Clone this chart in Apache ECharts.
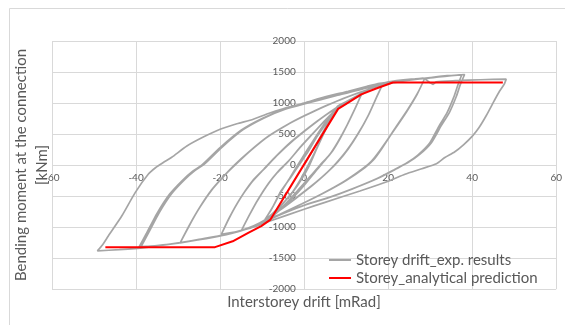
<!DOCTYPE html>
<html>
<head>
<meta charset="utf-8">
<script src="https://cdn.jsdelivr.net/npm/echarts@6/dist/echarts.min.js"></script>
<style>
  html, body { margin: 0; padding: 0; background: #fff; }
  #chart { width: 565px; height: 325px; }
</style>
</head>
<body>
<div id="chart"></div>
<script>
// Axis ranges and ticks
const xTicks = [-60, -40, -20, 0, 20, 40, 60];
const yTicks = [-2000, -1500, -1000, -500, 0, 500, 1000, 1500, 2000];

const seriesNames = ['Storey drift_exp. results', 'Storey_analytical prediction'];
const xTitle = 'Interstorey drift [mRad]';
const yTitle = 'Bending moment at the connection\n[kNm]';

// Experimental hysteresis, drift [mRad] vs moment [kNm], half-cycle by half-cycle
const cycle8a = [
  [0, 0], [2, 230], [4, 470], [6, 720], [8, 950],
  [6.5, 760], [4.5, 480], [2.8, 230], [1.3, 0], [-0.5, -220], [-2.5, -420], [-5, -620], [-7.5, -790], [-9.3, -880],
  [-7.5, -680], [-5.5, -420], [-3, -180], [-1.2, 0], [1, 220], [3, 450], [5, 650], [6.8, 830], [8, 950]
];
const cycle8b = [
  [6.3, 740], [4.2, 450], [2.5, 200], [1, 0], [-1, -250], [-3, -460], [-5.5, -650], [-7.8, -800], [-9.3, -880],
  [-7.8, -720], [-5.8, -470], [-3.5, -220], [-1.5, 0], [0.8, 250], [3, 480], [5.2, 700], [8, 950]
];
const cycle14a = [
  [10, 1020], [12, 1080], [13.6, 1130],
  [12.4, 950], [10.5, 680], [8.5, 420], [6.5, 200], [4.5, 40], [3, -80], [0, -330], [-3, -550], [-6, -740], [-9, -905], [-12, -1000], [-14.9, -1055],
  [-13.5, -870], [-11.5, -620], [-9, -350], [-6.5, -130], [-4, 40], [-1, 280], [2, 500], [5, 720], [8, 920], [10.5, 1030], [13.6, 1130]
];
const cycle14b = [
  [12.2, 920], [10.2, 640], [8, 370], [6, 160], [3.8, 0], [1.5, -180], [-1.5, -410], [-4.5, -630], [-7.5, -810], [-10, -950], [-12.5, -1010], [-14.9, -1055],
  [-13.2, -830], [-11, -560], [-8.5, -300], [-6, -90], [-3.5, 80], [-0.5, 320], [2.5, 540], [5.5, 750], [8.5, 940], [11, 1050], [13.6, 1130]
];
const cycle19a = [
  [16, 1240], [18.8, 1320],
  [17.5, 1130], [15.5, 830], [13, 520], [10.5, 260], [8, 50], [5.5, -120], [2, -330], [-2, -540], [-6, -740], [-10, -920], [-13, -1010], [-16, -1075], [-19.7, -1120],
  [-18, -880], [-15.5, -570], [-12.5, -280], [-9.5, -60], [-7, 120], [-3, 380], [1, 600], [5, 800], [9, 980], [13, 1130], [16, 1240], [18.8, 1320]
];
const cycle19b = [
  [17.3, 1100], [15.2, 790], [12.6, 480], [10, 220], [7.5, 20], [5, -150], [1.5, -350], [-2.5, -560], [-6.5, -760], [-10.5, -930], [-13.5, -1020], [-16.5, -1085], [-19.7, -1120],
  [-17.8, -850], [-15.2, -540], [-12.2, -250], [-9, -30], [-6.5, 150], [-2.5, 400], [1.5, 620], [5.5, 820], [9.5, 995], [13.5, 1145], [16.3, 1250], [18.8, 1320]
];
const cycle29a = [
  [22, 1360], [25.5, 1385], [28.7, 1395],
  [27.1, 1170], [24.7, 900], [21.5, 576], [18.4, 254], [16.5, 80], [14.5, -40], [10, -250], [5, -440], [0, -610], [-5, -770], [-10, -930], [-15, -1060], [-20, -1140], [-25, -1200], [-29.5, -1255],
  [-27.5, -1000], [-25, -700], [-22, -400], [-19, -170], [-16.6, 0], [-13, 220], [-9, 440], [-4, 650], [0, 790], [5, 950], [10, 1090], [15, 1210], [20, 1310], [25, 1370], [28.7, 1395]
];
const cycle29b = [
  [26.9, 1140], [24.4, 860], [21.2, 540], [18, 230], [16, 60], [14, -55], [9.5, -265], [4.5, -455], [-0.5, -625], [-5.5, -785], [-10.5, -945], [-15.5, -1070], [-20.5, -1150], [-25.5, -1210], [-29.5, -1255],
  [-27.3, -970], [-24.7, -670], [-21.7, -380], [-18.7, -150], [-16.2, 15], [-12.6, 240], [-8.6, 460], [-3.6, 665], [0.4, 805], [5.4, 960], [10.4, 1100], [15.4, 1220], [20.4, 1318], [25.4, 1378], [28.7, 1395]
];
const cycle38a = [
  [32, 1420], [35, 1440], [38.2, 1460],
  [37.2, 1300], [36.2, 1100], [34.6, 850], [32.6, 630], [30.3, 360], [27.5, 170], [25, 50], [22, -60], [18, -200], [12, -370], [6, -520], [0, -650], [-6, -810], [-10, -930], [-15, -1060], [-20, -1145], [-25, -1205], [-30, -1260], [-35, -1300], [-39.3, -1325],
  [-37.5, -1100], [-35, -780], [-32, -470], [-29, -250], [-26.5, -100], [-24.3, 0], [-20, 280], [-15, 560], [-10, 750], [-5, 890], [0, 990], [8, 1130], [15, 1250], [20, 1320], [25, 1370], [30, 1410], [34, 1440], [37.5, 1452]
];
const cycle38b = [
  [36.6, 1290], [35.6, 1090], [34, 840], [32, 615], [29.8, 345], [27, 155], [24.5, 35], [21.5, -75], [17.5, -215], [11.5, -385], [5.5, -535], [-0.5, -665], [-6.5, -825], [-10.5, -945], [-15.5, -1070], [-20.5, -1150], [-25.5, -1210], [-30.5, -1265], [-35.5, -1303], [-38.8, -1318],
  [-37, -1090], [-34.5, -770], [-31.5, -460], [-28.5, -240], [-26, -90], [-23.8, 10], [-19.5, 290], [-14.5, 570], [-9.5, 760], [-4.5, 900], [0, 985], [8, 1125], [15, 1245], [20, 1315], [25, 1370], [28.3, 1400],
  [30.7, 1300], [31.4, 1340], [36, 1360], [42, 1375], [48.1, 1385]
];
const cycle48 = [
  [47.6, 1300], [46.5, 1190], [45.2, 1030], [43.3, 790], [41.6, 600], [40.1, 470], [38, 330], [35.8, 210], [33.5, 120], [31.5, 20], [28, -60], [24, -150], [20.2, -258], [13.3, -419], [4.8, -606], [0, -714], [-8.1, -903], [-16.7, -1090], [-23, -1180], [-29.5, -1252], [-38, -1332], [-44, -1365], [-49.2, -1385],
  [-48, -1290], [-46.6, -1145], [-43.4, -823], [-40.2, -445], [-37.1, -150], [-35.3, -40], [-33.5, 40], [-31.5, 125], [-27.9, 306], [-24, 450], [-20, 576], [-16, 665], [-12.1, 737], [-8.5, 830], [-5.4, 900], [0, 1000], [5, 1100], [10.5, 1190], [15, 1270], [18, 1318], [22, 1350]
];

// Analytical moment-rotation prediction
const analyticalX = [-47.3, -21.2, -17, -13.3, -10.2, -8, 0, 8.1, 10.5, 13.6, 17, 21.1, 47.3];
const analyticalY = [-1325, -1325, -1230, -1095, -985, -880, 10, 905, 1005, 1140, 1230, 1330, 1330];

const experimental = [].concat(cycle8a, cycle8b, cycle14a, cycle14b, cycle19a, cycle19b,
  cycle29a, cycle29b, cycle38a, cycle38b, cycle48);
const analytical = analyticalX.map((x, i) => [x, analyticalY[i]]);

const FONT = 'Lato';
const TEXT = '#595959';
const GRID = '#d9d9d9';
const GREY = '#a5a5a5';
const RED = '#ff0000';

// plot rectangle in pixels
const PLOT = { left: 52, right: 557.5, top: 41, bottom: 289 };
// tick labels sit on the zero lines: shift each axis from the plot edge to its zero
const xZeroOffset = -(PLOT.bottom - PLOT.top) * (0 - yTicks[0]) / (yTicks[yTicks.length - 1] - yTicks[0]);
const yZeroOffset = -(PLOT.right - PLOT.left) * (0 - xTicks[0]) / (xTicks[xTicks.length - 1] - xTicks[0]);

const chart = echarts.init(document.getElementById('chart'), null, { renderer: 'canvas' });
chart.setOption({
  animation: false,
  backgroundColor: '#ffffff',
  textStyle: { fontFamily: FONT },
  grid: { left: PLOT.left, right: 565 - PLOT.right, top: PLOT.top, bottom: 325 - PLOT.bottom, containLabel: false },
  xAxis: {
    type: 'value', position: 'bottom', offset: xZeroOffset,
    min: xTicks[0], max: xTicks[xTicks.length - 1], interval: xTicks[1] - xTicks[0],
    axisLine: { show: false, onZero: false },
    axisTick: { show: false },
    axisLabel: { color: TEXT, fontSize: 10, fontFamily: FONT, margin: 8, showMinLabel: true, showMaxLabel: true,
      formatter: v => String(v) },
    splitLine: { show: true, lineStyle: { color: GRID, width: 1 } }
  },
  yAxis: {
    type: 'value', position: 'left', offset: yZeroOffset,
    min: yTicks[0], max: yTicks[yTicks.length - 1], interval: yTicks[1] - yTicks[0],
    axisLine: { show: false, onZero: false },
    axisTick: { show: false },
    axisLabel: { color: TEXT, fontSize: 10, fontFamily: FONT, margin: 9, showMinLabel: true, showMaxLabel: true,
      formatter: v => String(v) },
    splitLine: { show: true, lineStyle: { color: GRID, width: 1 } }
  },
  legend: {
    orient: 'vertical',
    left: 324, top: 246,
    itemWidth: 22, itemHeight: 2, itemGap: 0,
    data: [
      { name: seriesNames[0], icon: 'rect', itemStyle: { color: GREY } },
      { name: seriesNames[1], icon: 'rect', itemStyle: { color: RED } }
    ],
    textStyle: { color: TEXT, fontSize: 15, fontFamily: FONT, lineHeight: 18 }
  },
  series: [
    {
      name: seriesNames[0], type: 'line', data: experimental,
      symbol: 'none', smooth: 0.2, lineStyle: { color: GREY, width: 1.7 }, itemStyle: { color: GREY },
      z: 2
    },
    {
      name: seriesNames[1], type: 'line', data: analytical,
      symbol: 'none', lineStyle: { color: RED, width: 2 }, itemStyle: { color: RED },
      z: 3
    }
  ],
  graphic: [
    {
      type: 'rect', silent: true, z: -10,
      shape: { x: 9.5, y: 8.5, width: 600, height: 400 },
      style: { fill: 'none', stroke: GRID, lineWidth: 1 }
    },
    {
      type: 'text', x: 32, y: 165, rotation: Math.PI / 2,
      style: { text: yTitle, fill: TEXT, fontSize: 15, fontFamily: FONT, align: 'center', verticalAlign: 'middle', lineHeight: 21 }
    },
    {
      type: 'text', x: 304, y: 302,
      style: { text: xTitle, fill: TEXT, fontSize: 15, fontFamily: FONT, align: 'center', verticalAlign: 'middle' }
    }
  ]
});
</script>
</body>
</html>
